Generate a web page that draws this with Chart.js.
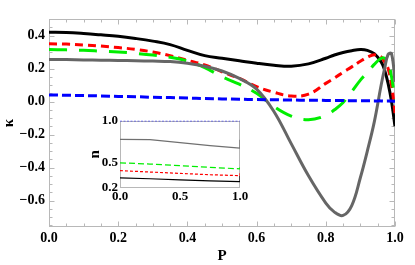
<!DOCTYPE html>
<html>
<head>
<meta charset="utf-8">
<script src="https://cdn.jsdelivr.net/npm/chart.js@4"></script>
<style>
  body { margin: 0; background: #fff; }
  #wrap { position: relative; width: 415px; height: 265px; }
  #inset { position: absolute; left: 86px; top: 111px; background: #fff; }
</style>
</head>
<body>
<div id="wrap">
  <canvas id="chart" width="415" height="265"></canvas>
  <canvas id="inset" width="164" height="98"></canvas>
</div>
<script>
// main plot: kappa vs P
const pValues = [0, 0.05, 0.1, 0.15, 0.2, 0.25, 0.3, 0.35, 0.4, 0.45, 0.5, 0.55, 0.6, 0.65, 0.7, 0.75, 0.8, 0.825, 0.85, 0.875, 0.9, 0.92, 0.94, 0.96, 0.97, 0.98, 0.99, 1.0];
const kBlack = [0.42, 0.418, 0.412, 0.404, 0.395, 0.382, 0.366, 0.345, 0.31, 0.278, 0.262, 0.247, 0.232, 0.22, 0.214, 0.228, 0.262, 0.282, 0.297, 0.308, 0.315, 0.31, 0.29, 0.24, 0.19, 0.11, 0.0, -0.15];
const kRed = [0.35, 0.348, 0.343, 0.336, 0.327, 0.316, 0.3, 0.278, 0.25, 0.222, 0.18, 0.14, 0.09, 0.056, 0.034, 0.045, 0.11, 0.143, 0.177, 0.21, 0.244, 0.268, 0.283, 0.27, 0.24, 0.2, 0.1, -0.07];
const kGreen = [0.315, 0.313, 0.31, 0.305, 0.3, 0.292, 0.282, 0.268, 0.245, 0.206, 0.15, 0.105, 0.05, -0.03, -0.088, -0.11, -0.085, -0.05, -0.006, 0.06, 0.13, 0.175, 0.225, 0.262, 0.262, 0.236, 0.15, 0.0];
const kGray = [0.255, 0.254, 0.252, 0.25, 0.249, 0.247, 0.245, 0.242, 0.232, 0.214, 0.185, 0.14, 0.075, -0.06, -0.255, -0.45, -0.615, -0.67, -0.69, -0.63, -0.46, -0.3, -0.125, 0.1, 0.2, 0.285, 0.29, 0.12];
const kBlue = [0.04, 0.038, 0.036, 0.034, 0.031, 0.029, 0.026, 0.024, 0.021, 0.018, 0.016, 0.014, 0.012, 0.011, 0.009, 0.008, 0.007, 0.006, 0.006, 0.005, 0.005, 0.005, 0.004, 0.004, 0.003, 0.003, 0.003, 0.002];
const xTicks = [0, 0.2, 0.4, 0.6, 0.8, 1.0];
const yTicks = [-0.6, -0.4, -0.2, 0, 0.2, 0.4];

// inset: n vs P
const insetP = [0, 0.25, 0.5, 0.75, 1, 1];
const nBlue = [1, 1, 1, 1, 1, 1];
const nGray = [0.78, 0.775, 0.74, 0.705, 0.674, 0.775];
const nGreen = [0.5, 0.485, 0.466, 0.446, 0.428, 0.448];
const nRed = [0.407, 0.39, 0.374, 0.358, 0.347, 0.375];
const nBlack = [0.32, 0.31, 0.297, 0.284, 0.275, 0.343];
const insetXTicks = [0, 0.5, 1.0];
const insetYTicks = [0.2, 0.5, 1.0];

const serif = { family: "'Liberation Serif', 'DejaVu Serif', serif", weight: 'bold', size: 14 };
const serifSmall = { ...serif, size: 13 };
const fmt = v => v.toFixed(1).replace('-', '\u2212');
const pts = (xs, ys) => xs.map((x, i) => ({ x: x, y: ys[i] }));

// frame with inward ticks like Mathematica
const frameTicks = {
  id: 'frameTicks',
  beforeDatasetsDraw(chart, args, o) {
    const { ctx, chartArea: a, scales: { x, y } } = chart;
    ctx.save();
    ctx.strokeStyle = '#b8b8b8';
    ctx.lineWidth = 1;
    const L = Math.round(a.left) + 0.5, R = Math.round(a.right) - 0.5;
    const T = Math.round(a.top) + 0.5, B = Math.round(a.bottom) - 0.5;
    ctx.strokeRect(L, T, R - L, B - T);
    if (o.step) {
      ctx.beginPath();
      for (let k = Math.ceil(x.min / o.step - 1e-6); k * o.step <= x.max + 1e-6; k++) {
        const v = k * o.step;
        const len = o.xMajor.some(t => Math.abs(t - v) < 1e-6) ? 5 : 3;
        const px = Math.round(x.getPixelForValue(v)) + 0.5;
        ctx.moveTo(px, B); ctx.lineTo(px, B - len);
        ctx.moveTo(px, T); ctx.lineTo(px, T + len);
      }
      for (let k = Math.ceil(y.min / o.step - 1e-6); k * o.step <= y.max + 1e-6; k++) {
        const v = k * o.step;
        const len = o.yMajor.some(t => Math.abs(t - v) < 1e-6) ? 5 : 3;
        const py = Math.round(y.getPixelForValue(v)) + 0.5;
        ctx.moveTo(L, py); ctx.lineTo(L + len, py);
        ctx.moveTo(R, py); ctx.lineTo(R - len, py);
      }
      ctx.stroke();
    }
    ctx.restore();
  }
};

const mainLine = (data, color, dash, order) => ({
  data: pts(pValues, data),
  borderColor: color,
  borderWidth: 3,
  borderDash: dash,
  pointRadius: 0,
  tension: 0.4,
  order: order
});

new Chart(document.getElementById('chart'), {
  type: 'line',
  data: {
    datasets: [
      mainLine(kBlack, '#000000', [], 5),
      mainLine(kRed, '#ff0000', [8, 5], 4),
      mainLine(kGreen, '#00ee00', [18, 12], 3),
      mainLine(kGray, '#666666', [], 2),
      mainLine(kBlue, '#0000ff', [9, 4], 1)
    ]
  },
  options: {
    responsive: false,
    devicePixelRatio: 1,
    animation: false,
    layout: { padding: { top: 19, right: 20, left: 0, bottom: 0 } },
    plugins: {
      legend: { display: false },
      tooltip: { enabled: false },
      frameTicks: { step: 0.05, xMajor: xTicks, yMajor: yTicks }
    },
    scales: {
      x: {
        type: 'linear', min: 0, max: 1,
        afterFit: s => { s.height = 38; },
        afterBuildTicks: s => { s.ticks = xTicks.map(v => ({ value: v })); },
        grid: { display: false, drawTicks: false },
        border: { display: false },
        ticks: { font: serif, color: '#000', padding: 3, maxRotation: 0, callback: fmt },
        title: { display: true, text: 'P', font: { ...serif, size: 15 }, color: '#000', padding: 0 }
      },
      y: {
        type: 'linear', min: -0.76, max: 0.5,
        afterFit: s => { s.width = 49; },
        afterBuildTicks: s => { s.ticks = yTicks.map(v => ({ value: v })); },
        grid: { display: false, drawTicks: false },
        border: { display: false },
        ticks: { font: serif, color: '#000', padding: 4, callback: fmt },
        title: { display: true, text: 'κ', font: { ...serif, size: 15 }, color: '#000', padding: 0 }
      }
    }
  },
  plugins: [frameTicks]
});

const insetLine = (data, color, dash, width) => ({
  data: pts(insetP, data),
  borderColor: color,
  borderWidth: width,
  borderDash: dash,
  pointRadius: 0,
  tension: 0
});

new Chart(document.getElementById('inset'), {
  type: 'line',
  data: {
    datasets: [
      insetLine(nBlue, '#0000ff', [2, 1.5], 1),
      insetLine(nGray, '#707070', [], 1.2),
      insetLine(nGreen, '#00ee00', [6, 3], 1.2),
      insetLine(nRed, '#ff0000', [3, 2], 1.2),
      insetLine(nBlack, '#000000', [], 1.2)
    ]
  },
  options: {
    responsive: false,
    devicePixelRatio: 1,
    animation: false,
    layout: { padding: { top: 9, right: 10, left: 0, bottom: 0 } },
    plugins: {
      legend: { display: false },
      tooltip: { enabled: false },
      frameTicks: {}
    },
    scales: {
      x: {
        type: 'linear', min: 0, max: 1,
        afterFit: s => { s.height = 21; },
        afterBuildTicks: s => { s.ticks = insetXTicks.map(v => ({ value: v })); },
        grid: { display: false, drawTicks: false },
        border: { display: false },
        ticks: { font: serifSmall, color: '#000', padding: 1, maxRotation: 0, callback: fmt }
      },
      y: {
        type: 'linear', min: 0.2, max: 1.0,
        afterFit: s => { s.width = 34; },
        afterBuildTicks: s => { s.ticks = insetYTicks.map(v => ({ value: v })); },
        grid: { display: false, drawTicks: false },
        border: { display: false },
        ticks: { font: serifSmall, color: '#000', padding: 2, callback: fmt },
        title: { display: true, text: 'n', font: { ...serif, size: 15 }, color: '#000', padding: 0 }
      }
    }
  },
  plugins: [frameTicks]
});
</script>
</body>
</html>
